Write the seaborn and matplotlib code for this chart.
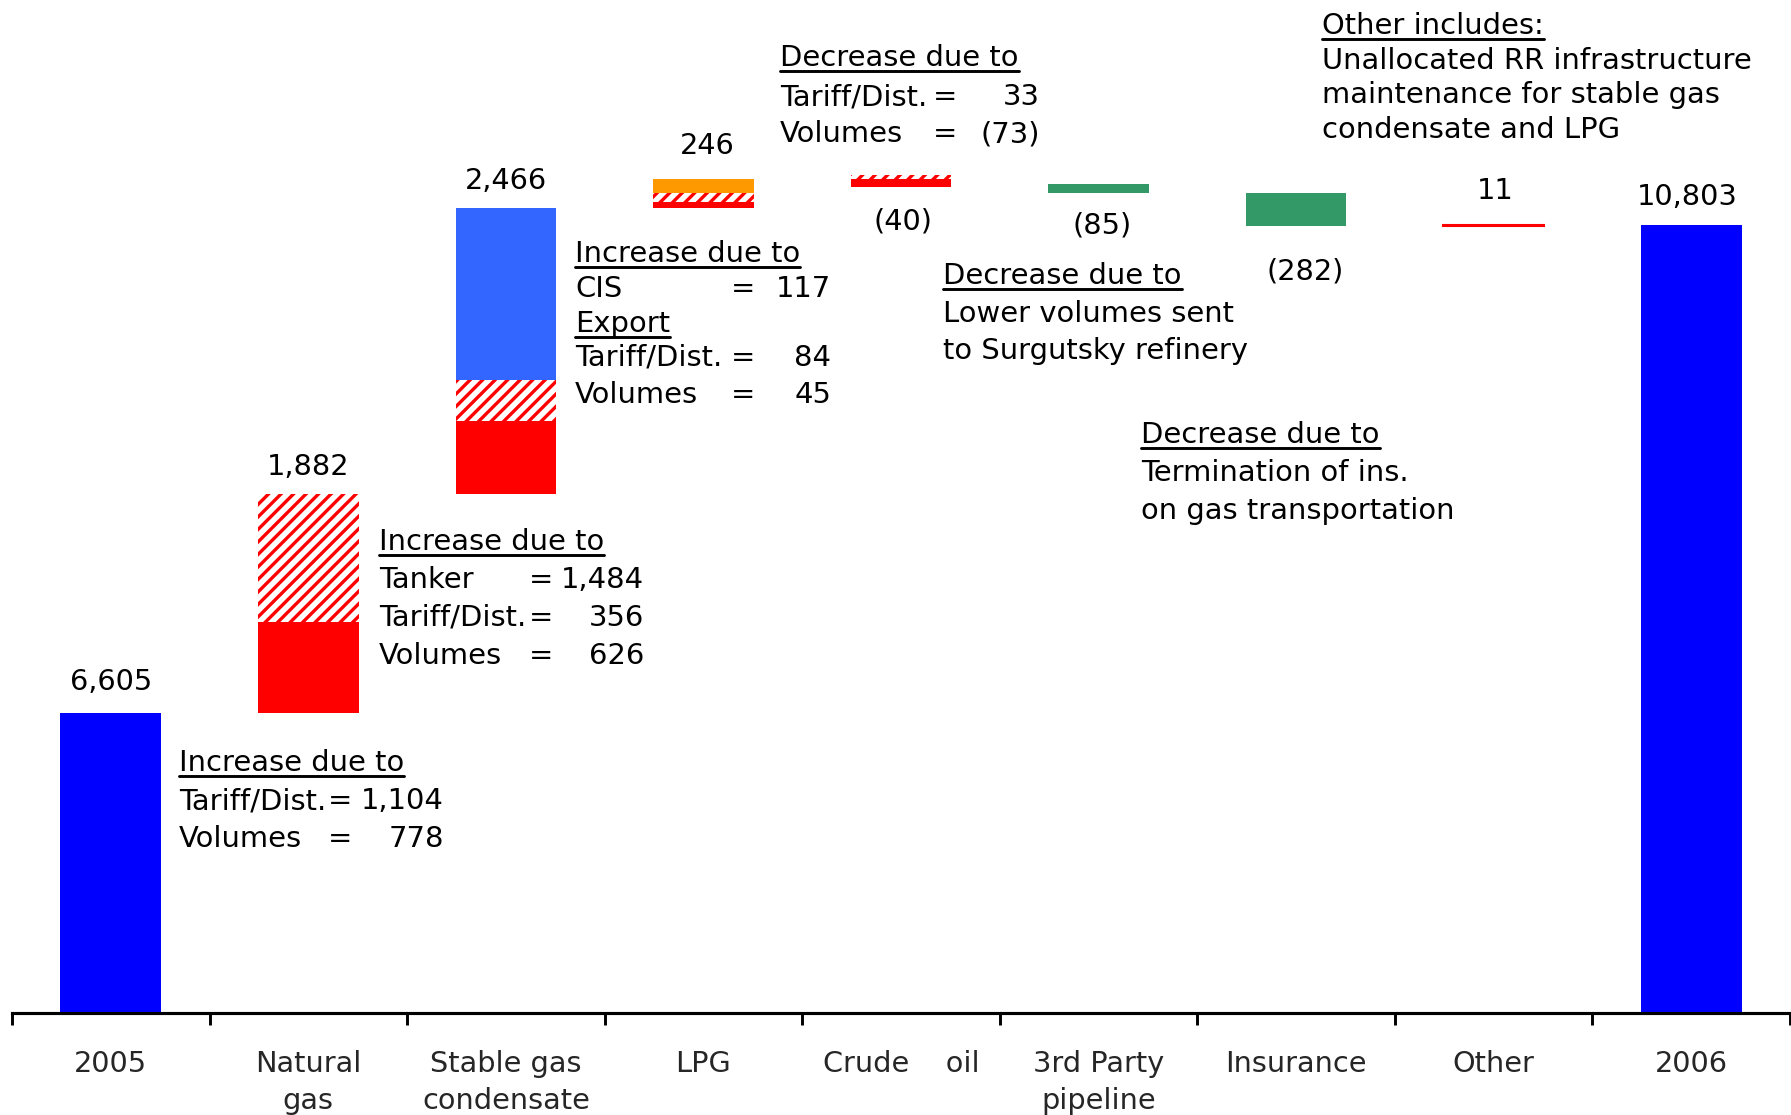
import pandas as pd
import matplotlib
matplotlib.use("Agg")
import matplotlib.pyplot as plt
from matplotlib.lines import Line2D
import seaborn as sns

# chart data
categories = ["2005", "Natural\ngas", "Stable gas\ncondensate", "LPG", "Crude    oil",
              "3rd Party\npipeline", "Insurance", "Other", "2006"]
start_2005 = 6605
end_2006 = 10803
# stacked pieces, listed from bottom to top
natural_gas = [778, 1104]
natural_gas_kinds = ["volumes", "tariff"]
stable_gas = [626, 356, 1484]
stable_gas_kinds = ["volumes", "tariff", "tanker"]
lpg = [45, 84, 117]
lpg_kinds = ["volumes", "tariff", "cis"]
# crude oil: tariff goes up, volumes go down from the same level
crude_oil = [33, -73]
crude_oil_kinds = ["tariff", "volumes"]
third_party = -85
insurance = -282
other = 11
value_labels = ["6,605", "1,882", "2,466", "246", "(40)", "(85)", "(282)", "11", "10,803"]

W, H = 1791, 1115
sns.set_theme(style="white")
plt.rcParams["font.family"] = ["DejaVu Sans"]
plt.rcParams["hatch.linewidth"] = 1.6
plt.rcParams["hatch.color"] = "#FF0000"

fig = plt.figure(figsize=(W / 150, H / 150), dpi=150)
ax = fig.add_axes([12 / W, 1 - 1013 / H, 1778 / W, 1013 / H])

bar_w = 0.51
kind_style = {
    "volumes": dict(color="#FF0000"),
    "tariff": dict(color="white", edgecolor="#FF0000", hatch="////"),
    "tanker": dict(color="#3366FF"),
    "cis": dict(color="#FF9900"),
}

# start / end totals
df = pd.DataFrame({"cat": categories,
                   "val": [start_2005] + [None] * 7 + [end_2006]})
sns.barplot(data=df, x="cat", y="val", order=categories, color="#0000FF",
            saturation=1, width=bar_w, errorbar=None, linewidth=0, ax=ax)

anchors = [start_2005]
level = start_2005
for i, (parts, kinds) in enumerate([(natural_gas, natural_gas_kinds),
                                     (stable_gas, stable_gas_kinds),
                                     (lpg, lpg_kinds)], start=1):
    b = level
    for v, k in zip(parts, kinds):
        ax.bar(i, v, bottom=b, width=bar_w, linewidth=0, **kind_style[k])
        b += v
    level = b
    anchors.append(level)

low = level
for v, k in zip(crude_oil, crude_oil_kinds):
    ax.bar(4, v, bottom=level, width=bar_w, linewidth=0, **kind_style[k])
    low = min(low, level + v)
anchors.append(low)
level += sum(crude_oil)

ax.bar(5, third_party, bottom=level, width=bar_w, color="#339966", linewidth=0)
level += third_party
anchors.append(level)
ax.bar(6, insurance, bottom=level, width=bar_w, color="#339966", linewidth=0)
level += insurance
anchors.append(level)
ax.bar(7, other, bottom=level, width=bar_w, color="#FF0000", edgecolor="#FF0000", linewidth=1.0)
level += other
anchors.append(level)
anchors.append(end_2006)

ax.set_ylim(4020, 12739)
ax.set_xlim(-0.5, 8.5)

offsets = [(0, 31), (0, 27), (0, 27), (4, 33), (2, -34), (4, -32), (9, -45), (2, 34), (-4, 28)]
for i, (lab, a, off) in enumerate(zip(value_labels, anchors, offsets)):
    ax.annotate(lab, (i, a), xytext=off, textcoords="offset pixels",
                ha="center", va="center", fontsize=13.8, color="black")

# axis styling
for s in ["left", "right", "top"]:
    ax.spines[s].set_visible(False)
ax.spines["bottom"].set_linewidth(1.5)
ax.spines["bottom"].set_color("black")
ax.set_yticks([])
ax.set_xticks(range(len(categories)))
ax.set_xticklabels(categories, fontsize=13.8, linespacing=1.4)
ax.set_xticks([i - 0.5 for i in range(len(categories) + 1)], minor=True)
ax.tick_params(axis="x", which="major", length=0, pad=18)
ax.tick_params(axis="x", which="minor", length=5.8, width=1.4, color="black",
               direction="out", bottom=True)
ax.set_xlabel("")
ax.set_ylabel("")

# text notes: (text, value, underlined)
note_a = [("Increase due to", None, True), ("Tariff/Dist.", "1,104", False),
          ("Volumes", "778", False)]
note_b = [("Increase due to", None, True), ("Tanker", "1,484", False),
          ("Tariff/Dist.", "356", False), ("Volumes", "626", False)]
note_c = [("Increase due to", None, True), ("CIS", "117", False),
          ("Export", None, True), ("Tariff/Dist.", "84", False),
          ("Volumes", "45", False)]
note_d = [("Decrease due to", None, True), ("Tariff/Dist.", "33", False),
          ("Volumes", "(73)", False)]
note_e = [("Decrease due to", None, True), ("Lower volumes sent", None, False),
          ("to Surgutsky refinery", None, False)]
note_f = [("Decrease due to", None, True), ("Termination of ins.", None, False),
          ("on gas transportation", None, False)]
note_g = [("Other includes:", None, True), ("Unallocated RR infrastructure", None, False),
          ("maintenance for stable gas", None, False), ("condensate and LPG", None, False)]

blocks = [
    (note_a, 179, [771, 809, 847], 340, 444),
    (note_b, 379, [550, 588, 626, 664], 541, 644),
    (note_c, 575, [262, 297, 332, 366, 403], 743, 831),
    (note_d, 780, [66, 105, 142], 945, 1040),
    (note_e, 943, [284, 322, 359], None, None),
    (note_f, 1141, [443, 481, 519], None, None),
    (note_g, 1322, [34, 69, 103, 138], None, None),
]

fs_note = 13.9
underlined = []
for lines, x0, ys, eq_x, val_x in blocks:
    for (txt, val, ul), yb in zip(lines, ys):
        t = fig.text(x0 / W, 1 - yb / H, txt, ha="left", va="baseline",
                     fontsize=fs_note, color="black")
        if ul:
            underlined.append((t, yb))
        if val is not None:
            fig.text(eq_x / W, 1 - yb / H, "=", ha="center", va="baseline",
                     fontsize=fs_note, color="black")
            fig.text(val_x / W, 1 - yb / H, val, ha="right", va="baseline",
                     fontsize=fs_note, color="black")

fig.canvas.draw()
renderer = fig.canvas.get_renderer()
for t, yb in underlined:
    bb = t.get_window_extent(renderer)
    yy = 1 - (yb + 5) / H
    fig.add_artist(Line2D([bb.x0 / W, bb.x1 / W], [yy, yy],
                          transform=fig.transFigure, color="black", linewidth=1.4))

fig.savefig("out.png", dpi=150, facecolor="white")
